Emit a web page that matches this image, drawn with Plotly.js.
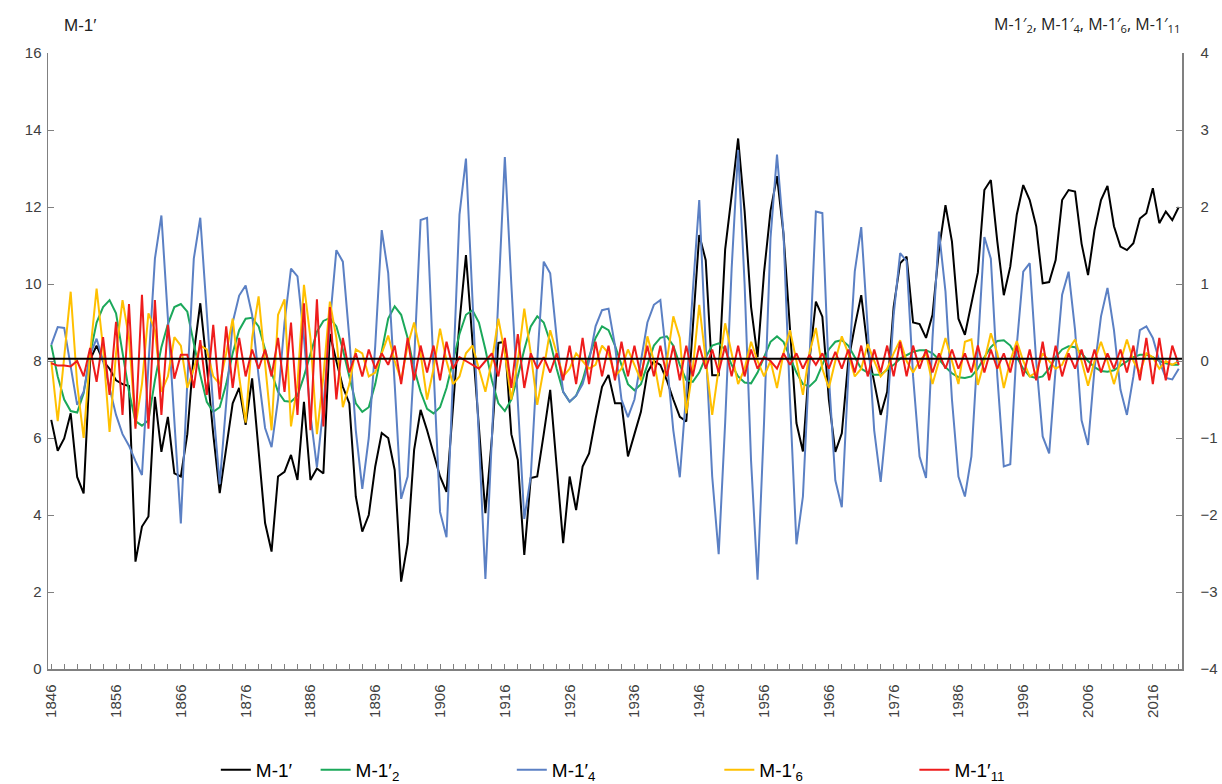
<!DOCTYPE html>
<html>
<head>
<meta charset="utf-8">
<script src="https://cdn.plot.ly/plotly-3.0.1.min.js"></script>
<style>html,body{margin:0;padding:0;background:#fff;}#chart{width:1222px;height:784px;}</style>
</head>
<body>
<div id="chart"></div>
<script>
// Years 1846..2020 (category axis)
var firstYear = 1846;
var lastYear = 2020;

// M-1' (left axis)
var m1 = [
 6.47, 5.67, 5.99, 6.64, 4.99, 4.56, 8.03, 8.40, 8.00, 7.80,
 7.50, 7.40, 7.35, 2.79, 3.70, 3.96, 7.07, 5.64, 6.55, 5.08,
 5.00, 6.10, 8.20, 9.50, 7.90, 6.10, 4.57, 5.80, 6.90, 7.30,
 6.34, 7.55, 5.70, 3.79, 3.05, 5.00, 5.12, 5.56, 4.91, 6.94,
 4.91, 5.21, 5.08, 8.70, 8.00, 7.33, 6.90, 4.48, 3.57, 4.00,
 5.26, 6.13, 6.00, 5.17, 2.27, 3.26, 5.69, 6.73, 6.20, 5.60,
 5.00, 4.60, 6.80, 9.00, 10.75, 8.50, 6.10, 4.05, 6.00, 8.47,
 8.50, 6.10, 5.43, 2.96, 4.96, 5.00, 6.10, 7.25, 5.26, 3.27,
 5.00, 4.13, 5.26, 5.60, 6.50, 7.33, 7.64, 6.90, 6.90, 5.52,
 6.10, 6.68, 7.70, 8.00, 7.90, 7.50, 7.00, 6.55, 6.43, 8.90,
 11.27, 10.62, 7.63, 7.63, 10.90, 12.30, 13.78, 11.90, 9.40, 8.10,
 10.30, 11.90, 12.80, 11.30, 8.70, 6.39, 5.65, 8.00, 9.54, 9.15,
 7.00, 5.64, 6.12, 8.00, 8.90, 9.71, 8.30, 7.40, 6.60, 7.20,
 9.40, 10.54, 10.71, 9.00, 8.96, 8.60, 9.20, 10.90, 12.05, 11.10,
 9.10, 8.68, 9.50, 10.30, 12.44, 12.70, 11.10, 9.71, 10.45, 11.80,
 12.57, 12.18, 11.50, 10.02, 10.05, 10.62, 12.18, 12.44, 12.40, 11.05,
 10.23, 11.40, 12.18, 12.55, 11.50, 10.97, 10.88, 11.06, 11.70, 11.84,
 12.49, 11.58, 11.88, 11.66, 12.00
];

// M-1'2 (right axis)
var m1_2 = [
 0.21, -0.20, -0.50, -0.65, -0.67, -0.42, 0.09, 0.50, 0.70, 0.79,
 0.62, 0.10, -0.40, -0.78, -0.84, -0.77, -0.25, 0.18, 0.48, 0.70,
 0.74, 0.64, 0.21, -0.18, -0.53, -0.66, -0.60, -0.30, 0.10, 0.40,
 0.55, 0.56, 0.45, 0.15, -0.15, -0.40, -0.52, -0.53, -0.45, -0.20,
 0.10, 0.38, 0.52, 0.56, 0.45, 0.15, -0.20, -0.55, -0.66, -0.60,
 -0.30, 0.15, 0.55, 0.71, 0.60, 0.30, -0.10, -0.40, -0.62, -0.68,
 -0.60, -0.35, 0.00, 0.35, 0.60, 0.66, 0.50, 0.15, -0.25, -0.55,
 -0.65, -0.50, -0.20, 0.15, 0.45, 0.58, 0.50, 0.25, -0.10, -0.40,
 -0.53, -0.45, -0.25, 0.05, 0.30, 0.45, 0.40, 0.20, -0.05, -0.30,
 -0.38, -0.30, -0.05, 0.20, 0.30, 0.32, 0.20, -0.05, -0.25, -0.27,
 -0.15, 0.05, 0.20, 0.23, 0.15, -0.05, -0.20, -0.28, -0.29, -0.15,
 0.05, 0.25, 0.32, 0.25, 0.05, -0.15, -0.30, -0.33, -0.25, -0.05,
 0.15, 0.25, 0.27, 0.20, 0.05, -0.10, -0.15, -0.18, -0.18, -0.12,
 -0.05, 0.03, 0.08, 0.12, 0.14, 0.14, 0.10, 0.02, -0.08, -0.16,
 -0.21, -0.22, -0.20, -0.10, 0.05, 0.18, 0.26, 0.27, 0.20, 0.05,
 -0.10, -0.20, -0.22, -0.20, -0.10, 0.05, 0.15, 0.19, 0.18, 0.10,
 0.00, -0.08, -0.13, -0.14, -0.12, -0.06, 0.00, 0.05, 0.08, 0.08,
 0.05, 0.00, -0.03, -0.05, -0.05
];

// M-1'4 (right axis)
var m1_4 = [
 0.21, 0.44, 0.43, -0.10, -0.57, -0.40, 0.08, 0.29, 0.00, -0.35,
 -0.70, -0.95, -1.10, -1.30, -1.48, -0.05, 1.33, 1.89, 0.60, -0.82,
 -2.11, -0.27, 1.33, 1.86, 0.60, -0.60, -1.60, -0.60, 0.50, 0.85,
 0.98, 0.60, -0.20, -0.87, -1.12, -0.50, 0.50, 1.20, 1.10, 0.30,
 -0.70, -1.38, -0.60, 0.50, 1.44, 1.29, 0.30, -0.90, -1.66, -1.00,
 0.20, 1.70, 1.14, -0.30, -1.79, -1.50, 0.00, 1.83, 1.86, -0.10,
 -1.96, -2.29, -0.30, 1.90, 2.63, 0.80, -1.00, -2.83, -1.00, 0.80,
 2.65, 1.00, -0.60, -2.05, -1.50, 0.00, 1.29, 1.14, 0.30, -0.40,
 -0.53, -0.45, -0.30, 0.00, 0.45, 0.66, 0.68, 0.20, -0.50, -0.73,
 -0.50, 0.00, 0.50, 0.73, 0.79, 0.00, -0.90, -1.51, -0.40, 0.90,
 2.09, 0.20, -1.50, -2.51, -0.80, 1.20, 2.74, 1.00, -1.30, -2.84,
 -0.80, 1.60, 2.68, 1.66, -0.50, -2.38, -1.76, 0.00, 1.94, 1.92,
 -0.20, -1.55, -1.90, -0.20, 1.16, 1.74, 0.40, -0.90, -1.57, -0.70,
 0.60, 1.40, 1.30, -0.20, -1.24, -1.52, 0.30, 1.68, 0.90, -0.50,
 -1.50, -1.76, -1.24, 0.20, 1.61, 1.33, -0.20, -1.37, -1.34, 0.20,
 1.16, 1.27, 0.00, -0.98, -1.20, -0.10, 0.86, 1.16, 0.40, -0.77,
 -1.09, -0.10, 0.58, 0.95, 0.40, -0.37, -0.70, -0.20, 0.40, 0.45,
 0.30, 0.00, -0.22, -0.24, -0.10
];

// M-1'6 (right axis)
var m1_6 = [
 0.00, -0.78, 0.05, 0.90, -0.30, -1.00, 0.10, 0.94, 0.17, -0.92,
 0.10, 0.79, 0.30, -0.85, -0.30, 0.62, 0.40, -0.40, -0.20, 0.31,
 0.20, -0.35, -0.10, 0.20, 0.15, -0.20, -0.30, 0.10, 0.55, -0.20,
 -0.80, 0.30, 0.84, 0.00, -0.90, 0.60, 0.80, -0.85, -0.30, 0.99,
 0.30, -0.95, -0.20, 0.77, 0.30, -0.60, -0.30, 0.15, 0.10, -0.20,
 -0.15, 0.10, 0.33, 0.00, -0.25, 0.20, 0.50, 0.10, -0.50, -0.10,
 0.42, 0.00, -0.30, -0.20, 0.10, 0.20, -0.10, -0.40, 0.00, 0.55,
 0.10, -0.50, 0.00, 0.68, 0.10, -0.57, -0.10, 0.40, 0.10, -0.20,
 -0.10, 0.10, 0.00, -0.10, -0.05, 0.20, 0.10, -0.20, -0.10, 0.15,
 -0.05, -0.25, 0.32, 0.00, -0.47, 0.00, 0.58, 0.30, -0.68, -0.10,
 0.73, 0.00, -0.70, -0.10, 0.49, 0.10, -0.30, -0.10, 0.25, 0.00,
 -0.20, 0.00, -0.35, 0.10, 0.40, 0.00, -0.44, 0.10, 0.43, -0.10,
 -0.35, 0.00, 0.32, 0.10, -0.20, -0.10, 0.22, 0.00, -0.20, -0.10,
 0.10, 0.27, 0.00, -0.15, 0.00, 0.10, -0.30, 0.00, 0.30, 0.00,
 -0.30, 0.25, 0.28, -0.31, 0.00, 0.36, 0.10, -0.35, 0.00, 0.26,
 0.00, -0.20, -0.15, 0.10, 0.00, -0.10, -0.05, 0.15, 0.28, 0.00,
 -0.32, 0.00, 0.25, 0.00, -0.30, 0.00, 0.28, 0.00, -0.15, 0.10,
 0.05, -0.10, 0.00, -0.05, 0.00
];

// M-1'11 (right axis)
var m1_11 = [
 -0.03, -0.06, -0.06, -0.07, 0.00, -0.20, 0.17, -0.27, 0.31, -0.44,
 0.51, -0.70, 0.74, -0.88, 0.86, -0.88, 0.79, -0.70, 0.47, -0.23,
 0.08, 0.08, -0.35, 0.27, -0.44, 0.47, -0.50, 0.45, -0.35, 0.30,
 -0.20, 0.15, -0.10, 0.15, -0.20, 0.30, -0.40, 0.50, -0.70, 0.75,
 -0.90, 0.80, -0.85, 0.70, -0.50, 0.30, -0.15, 0.10, -0.20, 0.15,
 -0.10, 0.10, -0.05, 0.20, -0.30, 0.30, -0.25, 0.20, -0.15, 0.20,
 -0.25, 0.25, -0.10, 0.05, 0.00, -0.05, -0.10, 0.00, 0.10, -0.20,
 0.30, -0.35, 0.35, -0.35, 0.10, -0.10, 0.05, -0.15, 0.10, -0.25,
 0.20, -0.30, 0.30, -0.30, 0.25, -0.20, 0.20, -0.25, 0.25, -0.20,
 0.20, -0.20, 0.20, -0.20, 0.20, -0.20, 0.20, -0.25, 0.20, -0.20,
 0.20, -0.10, 0.15, -0.15, 0.20, -0.20, 0.20, -0.20, 0.15, -0.10,
 0.05, 0.00, -0.10, 0.10, -0.05, 0.10, -0.10, 0.08, -0.05, 0.10,
 -0.10, 0.12, -0.10, 0.15, -0.15, 0.20, -0.20, 0.15, -0.15, 0.20,
 -0.20, 0.25, -0.20, 0.20, -0.10, 0.15, -0.15, 0.10, -0.10, 0.15,
 -0.10, 0.10, -0.15, 0.20, -0.15, 0.15, -0.10, 0.10, -0.15, 0.20,
 -0.20, 0.15, -0.25, 0.25, -0.25, 0.20, -0.20, 0.10, -0.10, 0.15,
 -0.15, 0.15, -0.15, 0.10, -0.10, 0.15, -0.15, 0.20, -0.25, 0.30,
 -0.30, 0.30, -0.25, 0.20, -0.05
];

var years = [];
for (var yr = firstYear; yr <= lastYear; yr++) years.push(yr);

var seriesNames = ["M-1′", "M-1′<sub>2</sub>", "M-1′<sub>4</sub>", "M-1′<sub>6</sub>", "M-1′<sub>11</sub>"];
var seriesColors = ["#000000", "#1BA85A", "#5B80C4", "#FFC000", "#EE1C1C"];
var seriesData = [m1, m1_2, m1_4, m1_6, m1_11];
var seriesAxis = ["y", "y2", "y2", "y2", "y2"];
var legendIds = ["legend", "legend2", "legend3", "legend4", "legend5"];

var traces = seriesData.map(function (d, i) {
  return {
    type: "scatter", mode: "lines", x: years, y: d, yaxis: seriesAxis[i],
    name: seriesNames[i], legend: legendIds[i],
    line: {color: seriesColors[i], width: 2}, hoverinfo: "skip"
  };
});

var legendX = [0.148, 0.236, 0.409, 0.592, 0.764];
var legFont = {family: "Liberation Sans, Arial, sans-serif", size: 19, color: "#000"};
function mkLegend(x) {
  return {x: x, xanchor: "left", y: -0.164, yanchor: "middle", orientation: "h",
          font: legFont, bgcolor: "rgba(0,0,0,0)", itemwidth: 30, borderwidth: 0};
}

var axFont = {family: "Liberation Sans, Arial, sans-serif", size: 15, color: "#404040"};

var layout = {
  width: 1222, height: 784,
  margin: {l: 48, r: 40, t: 53, b: 115, autoexpand: false},
  paper_bgcolor: "#ffffff", plot_bgcolor: "#ffffff",
  showlegend: true,
  legend: mkLegend(legendX[0]),
  legend2: mkLegend(legendX[1]),
  legend3: mkLegend(legendX[2]),
  legend4: mkLegend(legendX[3]),
  legend5: mkLegend(legendX[4]),
  xaxis: {
    range: [1845.5, 2020.5], tick0: 1846, dtick: 10, tickangle: -90,
    ticks: "inside", ticklen: 5, tickcolor: "#808080", ticklabelstandoff: 8,
    minor: {tick0: 1846, dtick: 2, ticks: "inside", ticklen: 5, tickcolor: "#808080"},
    showline: true, linecolor: "#808080", linewidth: 1.5, automargin: false,
    showgrid: false, zeroline: false, tickfont: {family: axFont.family, size: 15, color: "#404040"}
  },
  yaxis: {
    range: [0, 16], dtick: 2, ticks: "inside", ticklen: 6, tickcolor: "#808080",
    showline: true, linecolor: "#808080", linewidth: 1.5, automargin: false,
    showgrid: false, zeroline: false, tickfont: axFont, ticklabelstandoff: 2
  },
  yaxis2: {
    range: [-4, 4], dtick: 1, overlaying: "y", side: "right",
    ticks: "inside", ticklen: 6, tickcolor: "#808080", automargin: false,
    showline: true, linecolor: "#808080", linewidth: 1.5, ticklabelstandoff: 14,
    showgrid: false, zeroline: false, tickfont: axFont
  },
  shapes: [{
    type: "line", xref: "paper", x0: 0, x1: 1, yref: "y2", y0: 0.03, y1: 0.03,
    line: {color: "#000000", width: 2}, layer: "above"
  }],
  annotations: [
    {text: "M-1′", xref: "paper", yref: "paper", x: 0.012, y: 1.044, xanchor: "left", yanchor: "middle",
     showarrow: false, font: {family: "Liberation Sans, Arial, sans-serif", size: 17, color: "#222"}},
    {text: "M-1′<sub>2</sub>, M-1′<sub>4</sub>, M-1′<sub>6</sub>, M-1′<sub>11</sub>", xref: "paper", yref: "paper",
     x: 1.0, y: 1.047, xanchor: "right", yanchor: "middle", showarrow: false,
     font: {family: "Open Sans, Liberation Sans, sans-serif", size: 16, color: "#222"}}
  ]
};

Plotly.newPlot("chart", traces, layout, {staticPlot: true, displayModeBar: false});
</script>
</body>
</html>
